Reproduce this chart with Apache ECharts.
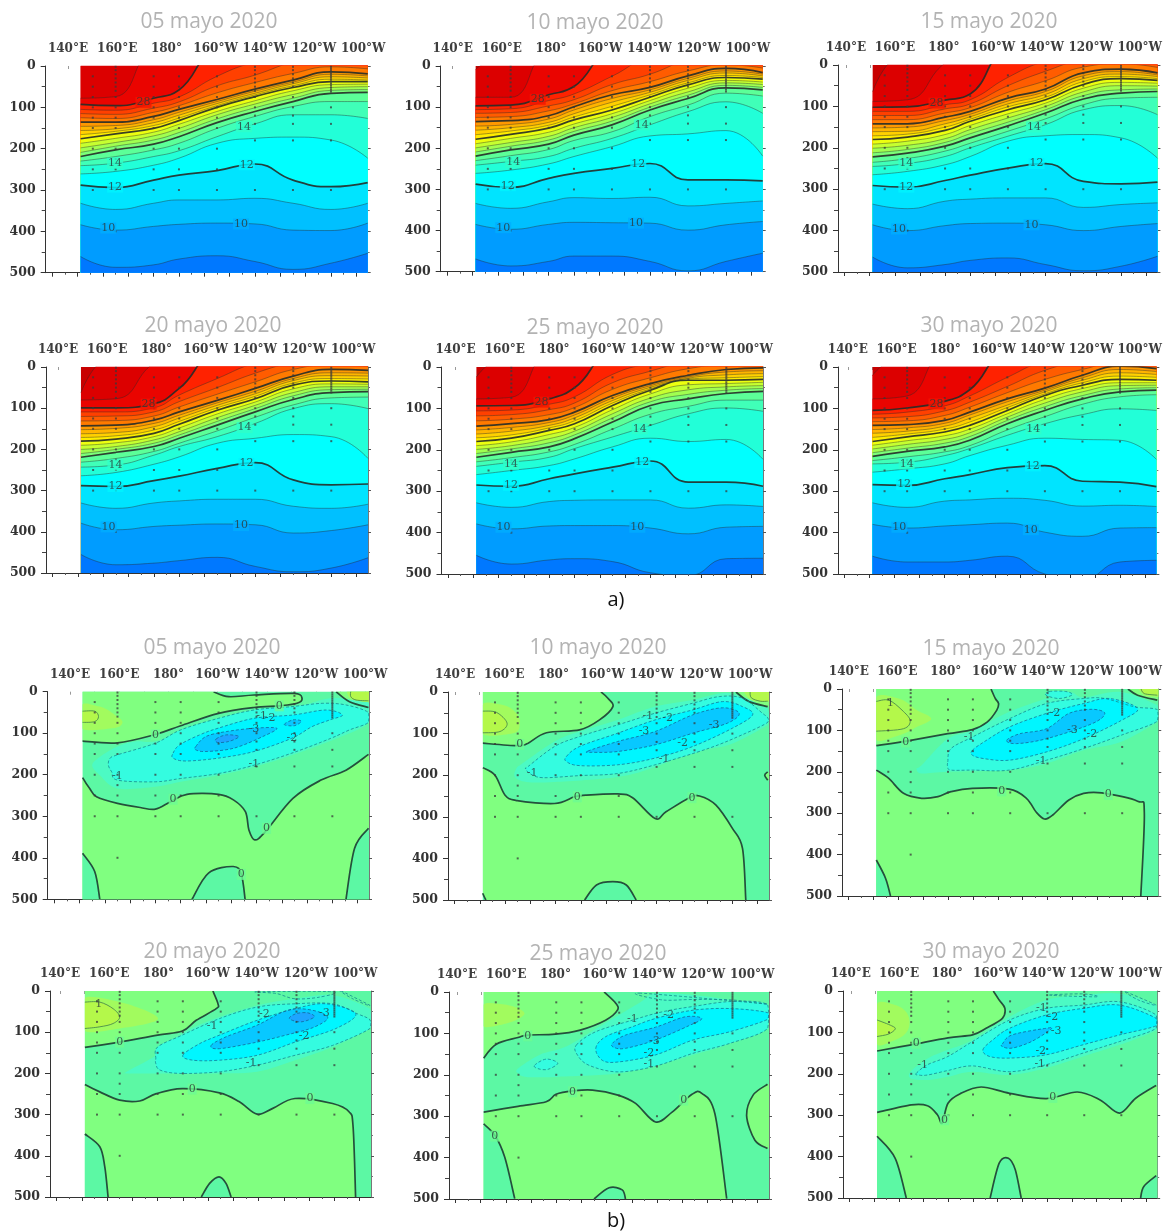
<!DOCTYPE html>
<html><head><meta charset="utf-8">
<style>html,body{margin:0;padding:0;background:#fff}#c{width:1165px;height:1231px}</style>
<script src="https://cdn.jsdelivr.net/npm/echarts@6/dist/echarts.min.js"></script>
</head><body><div id="c"></div>
<script>
const titles = ['05 mayo 2020','10 mayo 2020','15 mayo 2020','20 mayo 2020','25 mayo 2020','30 mayo 2020'];
const tickLabels = ['140°E','160°E','180°','160°W','140°W','120°W','100°W'];
const labelLons = [140,160,180,200,220,240,260];
const tickLons = [140,150,160,170,180,190,200,210,220,230,240,250,260];
const minorLons = [145,155,165,175,185,195,205,215,225,235,245,255];
const lonNodes = [151.2,165,180,190,205,220,235,250,264.5];
const tempLevels = [30,29,28,27,26,25,24,23,22,21,20,19,18,17,16,15,14,13,12,11,10,9];
const thickLevels = [28,24,20,16,12];
const tempColors = ['#dc0000','#ea0400','#ff2200','#ff4000','#ff5c00','#ff7a00','#ff9800','#ffb400','#ffd000','#ffec00','#ecff10','#c6ff30','#a0ff50','#7cff78','#5cff98','#40ffb8','#22ffd8','#00ffff','#00e4ff','#00c0ff','#009cff','#0078ff'];
const tempTop = '#c80000';
const o = -30;
const T1 = [[o,o,o,o,o,o,o,o,o],[78,74,o,o,o,o,o,o,o],[93,96,78,58,o,o,o,o,o],[105,107,90,75,25,-10,o,o,o],[115,117,102,87,48,22,-10,o,o],[125,127,112,96,65,40,18,2,7],[136,136,122,105,81,56,34,14,19],[146,144,130,112,86,61,39,20,24],[156,152,137,119,91,66,43,26,29],[166,158,144,126,96,70,48,32,34],[176,164,151,132,100,74,52,38,38],[187,175,160,141,110,84,60,45,44],[198,185,169,151,118,92,69,52,50],[209,194,179,161,128,101,78,59,57],[219,203,189,171,137,110,86,66,64],[230,219,203,187,151,122,98,86,86],[241,235,219,205,171,140,118,118,127],[261,255,240,223,187,175,172,179,223],[288,294,276,264,253,237,276,292,282],[332,347,332,324,324,320,332,347,332],[384,397,388,383,380,382,397,398,380],[461,487,481,467,459,473,492,477,453]];
const T2 = [[8,o,o,o,o,o,o,o,o],[76,76,o,o,o,o,o,o,o],[97,95,70,50,o,o,o,o,o],[106,104,84,68,25,-20,o,o,o],[115,113,97,82,45,20,-15,o,o],[125,123,109,92,60,38,12,-3,5],[135,133,121,99,70,52,24,6,16],[146,142,129,107,79,58,30,12,20],[156,150,137,116,88,64,35,17,24],[167,158,144,124,98,70,41,23,28],[178,166,151,131,107,76,46,28,32],[189,176,161,141,116,84,54,35,39],[199,186,171,150,125,92,63,41,45],[209,195,180,159,134,100,71,47,52],[219,204,190,168,143,107,79,53,58],[230,218,203,181,160,123,95,66,73],[241,232,220,200,176,143,111,87,115],[261,253,238,220,196,170,165,157,219],[287,295,273,261,249,237,277,277,279],[334,346,330,320,322,319,340,334,328],[385,397,385,380,381,382,399,386,378],[469,486,475,462,462,475,498,475,455]];
const T3 = [[64,o,o,o,o,o,o,o,o],[88,84,-5,o,o,o,o,o,o],[102,101,85,70,o,o,o,o,o],[112,112,96,84,30,-10,o,o,o],[122,122,106,94,50,15,-15,o,o],[132,132,116,103,66,38,5,-3,6],[142,142,126,112,80,58,19,10,19],[152,150,134,119,87,64,26,16,24],[161,160,142,125,94,71,33,22,28],[171,167,150,131,101,78,40,28,33],[180,174,158,136,108,84,47,33,37],[191,184,168,146,118,92,56,42,44],[201,194,178,156,128,100,65,50,51],[212,204,187,166,138,108,74,60,58],[222,213,196,176,147,116,82,68,64],[235,226,208,189,160,130,96,80,78],[245,238,221,200,172,144,108,98,120],[265,257,241,221,184,171,168,176,225],[291,295,279,266,249,238,281,287,283],[336,347,329,324,321,321,344,337,333],[386,400,388,383,382,386,400,390,383],[464,490,482,472,466,482,497,486,462]];
const T4 = [[62,o,o,o,o,o,o,o,o],[80,77,-10,o,o,o,o,o,o],[99,99,89,52,o,o,o,o,o],[109,109,99,68,28,-10,o,o,o],[120,119,109,84,50,15,-12,o,o],[131,130,119,97,66,36,6,-5,-2],[143,141,129,109,81,52,22,6,8],[152,149,137,117,87,59,28,14,15],[162,159,145,124,93,65,33,21,22],[171,167,153,132,99,71,39,28,29],[180,175,161,139,105,77,44,34,36],[190,184,169,148,114,85,53,41,42],[200,193,177,157,123,93,62,48,48],[210,200,185,165,132,101,70,55,54],[219,207,193,173,141,109,79,62,60],[231,222,205,185,155,122,92,75,73],[243,238,214,193,169,137,101,89,101],[264,256,236,218,185,173,164,169,222],[288,290,276,265,246,232,274,286,284],[330,343,330,325,321,321,338,343,333],[379,395,387,384,381,383,403,397,383],[455,480,476,470,462,484,497,488,463]];
const T5 = [[24,o,o,o,o,o,o,o,o],[77,73,o,o,o,o,o,o,o],[94,93,77,50,o,o,o,o,o],[106,104,90,72,18,-10,o,o,o],[118,115,103,87,38,10,-15,o,o],[130,126,115,98,54,26,4,-5,-6],[143,137,127,109,69,40,20,6,2],[152,146,134,116,75,45,24,12,9],[162,155,141,123,81,49,27,19,16],[171,164,147,130,87,53,29,26,23],[180,172,153,137,93,56,32,32,30],[190,181,163,146,103,65,43,40,37],[199,190,173,155,113,75,55,48,45],[209,198,183,164,123,84,66,56,52],[218,206,193,173,133,93,77,64,59],[229,219,205,187,150,114,95,80,80],[240,230,218,197,169,141,113,99,107],[260,250,238,222,193,172,180,175,223],[285,288,270,258,242,227,278,278,288],[328,339,325,322,321,321,341,333,337],[379,391,384,383,383,389,403,387,385],[455,476,466,463,470,497,504,463,462]];
const T6 = [[20,o,o,o,o,o,o,o,o],[77,70,o,o,o,o,o,o,o],[105,99,83,55,o,o,o,o,o],[114,109,94,70,25,-15,o,o,o],[123,120,106,85,47,8,-15,o,o],[132,130,117,97,62,30,6,-12,-8],[141,139,129,109,77,51,20,-2,4],[151,147,136,116,84,56,26,6,11],[160,155,143,124,92,60,32,14,18],[170,162,150,133,98,65,38,22,25],[180,169,157,141,105,69,44,30,32],[189,178,166,150,113,78,52,38,38],[198,187,175,159,121,87,60,45,44],[207,196,184,168,129,96,69,53,50],[216,204,193,177,137,105,77,60,56],[226,217,205,190,152,120,90,72,67],[234,230,214,197,165,137,115,101,105],[254,246,234,214,189,172,175,177,223],[284,286,270,260,243,238,276,278,289],[328,339,324,321,317,322,336,334,337],[380,389,384,381,377,399,409,389,388],[457,471,471,467,457,500,512,471,467]];
const TL1 = [[176,88,'28'],[215.7,147,'14'],[164.8,235,'14'],[216.8,239,'12'],[164.8,293,'12'],[162.1,392,'10'],[214.5,382,'10']];
const TL2 = [[175.7,81,'28'],[216.8,143,'14'],[166,234,'14'],[215.4,239,'12'],[163.9,291,'12'],[162.1,393,'10'],[214.5,382,'10']];
const TL3 = [[176.6,92,'28'],[215.4,150,'14'],[164.6,238,'14'],[216.4,238,'12'],[164.6,295,'12'],[161.7,396,'10'],[214.4,386,'10']];
const TL4 = [[177.9,90,'28'],[215.8,147,'14'],[164.8,238,'14'],[216.5,234,'12'],[164.8,290,'12'],[162.1,388,'10'],[214.4,385,'10']];
const TL5 = [[176.9,85,'28'],[215.8,149,'14'],[164.9,235,'14'],[216.8,231,'12'],[164.9,286,'12'],[161.9,387,'10'],[214.8,387,'10']];
const TL6 = [[176.7,89,'28'],[215.4,149,'14'],[164.8,234,'14'],[215.2,239,'12'],[163.8,284,'12'],[161.9,387,'10'],[214.4,393,'10']];
const tempLabelBg = {'28':'#f41400','14':'#30ffc8','12':'#00f4ff','10':'#00aeff'};

// Anomaly contours: [kind, curve (lon,depth), straight closure]
const A1 = [
 ['pos',[[151.1,119],[165,123],[180,103],[190,82],[205,52],[219,38],[229,34],[236,28],[238,16],[235,4],[219,8],[209,12],[203,0]],[[203,-20],[140,-20]]],
 ['pos',[[251.5,0],[256.8,24],[264.3,38]],[[270,38],[270,-20],[251.5,-20]]],
 ['pos',[[151.1,207],[154,233],[156.7,253],[165,269],[174,279],[180,283],[186,265],[192.5,247],[205,247],[211,261],[215.6,289],[217,333],[219.3,357],[223.5,337],[234.4,257],[245.5,213],[255.4,189],[264.3,151]],[[270,151],[270,520],[140,520],[140,207]]],
 ['neg',[[151.1,389],[156,433],[158,500]],[[158,520],[140,520],[140,389]]],
 ['neg',[[194.5,500],[201,437],[210.8,421],[214,440],[215.5,500]],[[215.5,520],[194.5,520]]],
 ['neg',[[264.3,329],[258.8,377],[255.4,500]],[[255.4,520],[270,520],[270,329]]],
 ['p05',[[148,32],[158,36],[164,56],[167,74],[163,88],[148,88]]],
 ['p05',[[255.4,-5],[257,16],[261,28],[266,28]],[[270,28],[270,-20]]],
 ['p1',[[151,47],[156,47],[157.5,60],[156,72],[151,74]],[[145,74],[145,47]]],
 ['p1',[[257.3,-2],[257.3,12],[259.4,20],[264.3,22]],[[270,22],[270,-20]]],
 ['n05',[[158,157],[165,132],[172,120],[180,120],[190,96],[205,64],[219,44],[234,40],[249,16],[262,24],[268,30],[268,70],[250,117],[234,153],[219,181],[205,201],[190,217],[180,229],[165,233],[158,201],[155,177]]],
 ['n1',[[162,161],[165,152],[180,124],[190,92],[205,64],[219,44],[234,36],[246,28],[255.5,32],[264.3,50],[264.3,74],[256.8,92],[249.5,112],[234,148],[219,177],[205,197],[190,209],[180,217],[165,213],[162.7,193],[161.4,177]]],
 ['n2',[[187,148],[189.6,128],[197.5,104],[204.8,88],[219,64],[234.4,56],[247.5,44],[254,56],[249,68],[242,84],[234,112],[219,144],[205,160],[192,167],[187,160]]],
 ['n3',[[196,132],[200,108],[208,96],[219,88],[228,88],[222.5,108],[211,136],[200,144],[196,140]]],
 ['n3',[[231,79],[234.4,68],[237.7,71],[235,82]]],
 ['n35',[[204,114],[208,104],[213,108],[209,120],[204.5,122]]]];
const A2 = [
 ['pos',[[151,123],[164.8,129],[169.1,123],[176.4,98],[189.5,91],[197.4,67],[202.7,35],[200.7,15],[198,0]],[[198,-20],[140,-20]]],
 ['pos',[[251.4,0],[256.6,23],[264,35]],[[270,35],[270,-20],[251.4,-20]]],
 ['pos',[[151,182],[156,200],[160,248],[164.8,261],[179.6,268],[187.5,252],[192,248],[204.6,245],[210.5,254],[219.4,304],[223.7,288],[233,254],[237,250],[243.5,272],[250,328],[254,376],[255.3,500]],[[255.3,520],[140,520],[140,182]]],
 ['pos',[[264,192],[262.8,200],[264,212]],[[270,212],[270,192]]],
 ['neg',[[191.5,500],[196.2,464],[202.7,456],[208,464],[211.9,500]],[[211.9,520],[191.5,520]]],
 ['neg',[[151,484],[152.4,500]],[[152.4,520],[145,520]]],
 ['p05',[[148,31],[159.2,31],[164.5,51],[165.8,75],[163.2,99],[148,99]]],
 ['p05',[[254,-5],[257.5,19],[264,23]],[[270,23],[270,-20]]],
 ['p1',[[151,46],[156.6,49],[160.8,75],[158,95],[151,98]],[[145,98],[145,46]]],
 ['p1',[[257,-2],[257.5,14],[261,22],[264,22]],[[270,22],[270,-20]]],
 ['n05',[[167.1,171],[179.6,119],[189.5,95],[204.6,67],[219.4,35],[234.3,19],[248.7,3],[264,39],[268,60],[264,79],[248.7,127],[234.3,143],[219.4,180],[204.6,204],[179.6,216],[168.5,216],[163.9,204],[164.5,184]]],
 ['n1',[[169.1,179],[179.6,131],[189.5,107],[204.6,79],[219.4,51],[234.3,27],[244.8,11],[254,15],[261.9,51],[264,62],[264,73],[255.3,99],[240.8,135],[219.4,175],[204.6,196],[189.5,201],[175,206],[169.8,196],[168.2,184]]],
 ['n2',[[184.3,155],[189.5,131],[204.6,99],[219.4,67],[234.3,43],[246.1,23],[254,35],[258,55],[250,87],[234.3,131],[219.4,159],[204.6,175],[189.5,177],[184.3,167]]],
 ['n3',[[192.8,142],[204.6,119],[219.4,95],[234.3,55],[246.1,38],[252.7,51],[248,75],[234.3,99],[219.4,127],[204.6,143],[194.8,145]]]];
const A3 = [
 ['pos',[[151.2,137],[165,124],[179.9,108],[189.8,98],[195.7,80],[199.6,51],[200.3,35],[199,23],[197.3,0]],[[197.3,-20],[140,-20]]],
 ['pos',[[252.3,0],[256.2,15],[264.1,27]],[[270,27],[270,-20],[252.3,-20]]],
 ['pos',[[151.2,196],[156.2,216],[162.1,252],[169.4,264],[176,260],[181.2,248],[189.8,240],[204.6,242],[211.5,264],[215.4,297],[218.7,314],[222,305],[228.6,268],[234.5,252],[241.8,251],[256.2,271],[258.9,297],[257.5,500]],[[257.5,520],[140,520],[140,196]]],
 ['neg',[[151.2,413],[154.9,457],[156.9,500]],[[156.9,520],[145,520],[145,413]]],
 ['p05',[[148,23],[160.2,23],[167.4,51],[173.3,72],[167.4,92],[160.2,112],[148,120]]],
 ['p05',[[256.2,-5],[258.9,15],[264.1,19]],[[270,19],[270,-20]]],
 ['p1',[[151.2,30],[156.2,27],[161.5,51],[164.8,76],[162.1,96],[151.2,102]],[[145,102],[145,30]]],
 ['p1',[[257.5,-2],[258.9,11],[264.1,15]],[[270,15],[270,-20]]],
 ['n05',[[169.4,184],[179.9,120],[189.8,100],[204.6,55],[219.6,23],[229,8],[234.5,20],[249.4,7],[264.1,39],[268,60],[264.1,80],[249.4,128],[234.5,148],[219.6,180],[204.6,196],[179.9,200],[169.4,204],[167.4,192]]],
 ['n1',[[179.9,176],[181.2,144],[189.8,116],[204.6,72],[219.6,35],[234.5,23],[243,23],[254.9,43],[264.1,50],[264.1,78],[249.4,112],[234.5,144],[219.6,172],[204.6,196],[189.8,196],[181.2,196],[179.9,188]]],
 ['n1',[[220.7,6],[227.3,6],[229.9,14],[224.7,23],[219.4,15]]],
 ['n2',[[189.8,148],[194.4,128],[204.6,92],[219.6,59],[234.5,35],[245,23],[256.2,47],[249.6,76],[234.5,120],[219.6,152],[204.6,172],[194.4,168],[189.8,160]]],
 ['n3',[[203.6,124],[208.9,108],[219.6,96],[228.6,59],[237.8,49],[243,59],[237.8,84],[219.6,120],[207.5,132]]]];
const A4 = [
 ['pos',[[151.2,137],[165,124],[180,107],[189.8,97],[195.3,71],[203.2,43],[203.9,31],[201.9,0]],[[201.9,-20],[140,-20]]],
 ['pos',[[151.2,227],[157.1,245],[165,265],[172.9,267],[179.5,249],[189.8,237],[204.5,247],[212.4,269],[219.4,299],[225.6,285],[234.4,261],[249.3,273],[255.8,293],[257.4,330],[258.4,500]],[[258.4,520],[140,520],[140,227]]],
 ['neg',[[151.2,347],[157.1,378],[159.1,427],[160.4,500]],[[160.4,520],[145,520],[145,347]]],
 ['neg',[[197.3,500],[200.6,467],[204.3,451],[207.1,467],[209.1,500]],[[209.1,520],[197.3,520]]],
 ['p05',[[148,19],[165,27],[180.2,67],[165,91],[148,95]]],
 ['p1',[[151.2,27],[157.1,27],[162.4,43],[165,63],[162.4,79],[157.1,87],[151.2,91]],[[145,91],[145,27]]],
 ['n05',[[167.7,196],[179.5,156],[189.8,103],[204.5,63],[219.4,35],[234.4,19],[249.3,10],[264.1,43],[268,65],[264.1,91],[249.3,136],[234.4,168],[219.4,196],[204.5,200],[180,200],[167.7,200]]],
 ['n1',[[179.3,164],[180,136],[189.8,107],[204.5,67],[219.4,39],[234.4,31],[249.3,31],[259,55],[264.1,70],[264.1,91],[249.3,132],[234.4,156],[219.4,180],[204.5,196],[188.7,200],[181,192],[179.3,176]]],
 ['n2',[[190,156],[196.6,128],[204.5,107],[219.4,71],[234.4,43],[246.6,31],[258.5,55],[250.6,91],[234.4,124],[219.4,156],[204.5,168],[194,168]]],
 ['n3',[[201.2,132],[207.2,111],[219.4,83],[229.5,51],[236.1,43],[244,51],[247.3,67],[241.4,89],[230.8,107],[219.4,124],[204.5,140]]],
 ['n35',[[232.2,67],[234.8,55],[239.4,53],[242,63],[236.8,75]]],
 ['dash',[[219.4,2],[227,6],[234.4,19],[244,15],[249.3,2]]],
 ['dash',[[252,-2],[257.3,19],[264.1,35]]]];
const A5 = [
 ['pos',[[151,160],[156.2,126],[164.8,110],[168.7,104],[179.6,102],[189.5,92],[199.6,68],[204.3,44],[203.6,27],[199,0]],[[199,-20],[140,-20]]],
 ['pos',[[151,290],[164.8,276],[176,265],[179.9,247],[186.5,239],[194.4,237],[204.5,249],[211.5,269],[219.4,314],[226,290],[233.9,247],[237.8,245],[243,294],[247.7,499]],[[247.7,520],[140,520],[140,290]]],
 ['pos',[[263.9,223],[258.2,249],[255.6,298],[258.9,358],[263.9,378]],[[270,378],[270,223]]],
 ['neg',[[151,318],[155.6,346],[159.5,398],[163.5,499]],[[163.5,520],[145,520],[145,318]]],
 ['neg',[[195,500],[201,473],[206.2,478],[207.5,500]],[[207.5,520],[195,520]]],
 ['p05',[[148,31],[160.2,31],[167.4,52],[160.2,76],[148,82]]],
 ['n05',[[164.8,185],[173.3,152],[183.9,132],[197,84],[212.8,27],[219.4,3],[234.3,7],[249,19],[264,40],[268,55],[264,72],[249,124],[234.3,152],[219.4,177],[204.5,197],[179.6,205],[168,205],[165,197]]],
 ['n1',[[188,128],[195.7,96],[210.2,68],[222,48],[234.3,35],[249.6,23],[264,31],[264,88],[249,124],[234.3,148],[219.4,179],[204.5,193],[193,177],[188.4,152]]],
 ['n1',[[171.4,177],[176,162],[180.6,172],[176.6,187],[172.7,185]]],
 ['n2',[[195.7,136],[199.6,108],[210.2,84],[219.4,64],[234.3,44],[249.6,40],[264,50],[264,66],[249,96],[234.3,116],[219.4,152],[204.5,169],[198.3,165]]],
 ['n3',[[202.3,124],[207.5,104],[219.4,85],[231.2,60],[237.8,64],[232.5,82],[219.4,116],[207.5,136],[203,134]]],
 ['dash',[[213.5,3],[222,19],[234.3,18],[249.6,19],[264,29]]]];
const A6 = [
 ['pos',[[151.2,145],[165,130],[179.9,113],[189.8,106],[195.3,90],[201.9,66],[202.9,42],[200.6,22],[198.2,0]],[[198.2,-20],[140,-20]]],
 ['pos',[[151.2,293],[165,275],[171.6,277],[175.6,299],[177.5,319],[179.9,271],[184.8,248],[193.3,232],[204.8,247],[219.6,260],[232.2,244],[241.4,263],[249.3,295],[255.8,259],[264.1,228]],[[270,228],[270,520],[140,520],[140,293]]],
 ['neg',[[151.2,351],[158.5,404],[163,500]],[[163,520],[145,520],[145,351]]],
 ['neg',[[196.9,500],[200.6,416],[204.3,404],[207.1,432],[209.5,500]],[[209.5,520],[196.9,520]]],
 ['neg',[[264.1,446],[259.1,472],[257.8,500]],[[257.8,520],[270,520],[270,446]]],
 ['p05',[[148,34],[158.5,34],[163.7,58],[163.7,94],[158.5,118],[148,126]]],
 ['p1',[[151.2,70],[157.1,84],[158.5,92],[155.8,104],[151.2,110]],[[145,110],[145,70]]],
 ['n05',[[164.8,195],[172,162],[179.9,142],[189.8,118],[204.8,62],[219.6,22],[234.5,10],[249.3,6],[264.1,34],[268,60],[264.1,94],[249.3,130],[234.5,158],[219.6,186],[204.8,203],[189.8,195],[179.9,207],[172,215],[165,211]]],
 ['n1',[[167,199],[171.6,178],[179.9,158],[189.8,122],[204.8,70],[219.6,42],[234.5,34],[249.3,26],[264.1,58],[264.1,90],[249.3,122],[234.5,150],[219.6,178],[204.8,195],[189.8,181],[179.9,192],[171.6,203],[168,203]]],
 ['n2',[[194,142],[198,118],[204.8,90],[219.6,58],[234.5,42],[249.3,34],[264.1,66],[264.1,84],[249.3,106],[234.5,130],[219.6,154],[204.8,162],[196.6,158]]],
 ['n3',[[201.9,128],[205.8,106],[219.6,90],[221.6,92],[213.7,122],[205.8,138],[201.9,134]]],
 ['dash',[[221,10],[234.5,7],[240,14]]],
 ['dash',[[251.7,2],[257,22],[264.1,34]]]];
const AL1 = [[180,104,'0'],[229,34,'0'],[187,259,'0'],[224,329,'0'],[214,440,'0'],[222,60,'-1'],[225.4,64,'-2'],[219,91,'-3'],[234,111,'-2'],[219,174,'-1'],[165,203,'-1']];
const AL2 = [[165.8,126,'0'],[188.6,252,'0'],[234,254,'0'],[216.5,59,'-1'],[224.4,62,'-2'],[215,95,'-3'],[242.8,79,'-3'],[230.3,122,'-2'],[223,162,'-1'],[170.7,196,'-1']];
const AL3 = [[163,128,'0'],[201.6,246,'0'],[244.4,255,'0'],[156.9,35,'1'],[188.5,116,'-1'],[223,59,'-2'],[230,100,'-3'],[237.8,108,'-2'],[217.4,174,'-1']];
const AL4 = [[165,124,'0'],[193.7,238,'0'],[240.3,261,'0'],[156.7,31,'1'],[201.6,86,'-1'],[222.3,55,'-2'],[246,53,'-3'],[238,110,'-2'],[217,176,'-1']];
const AL5 = [[168.7,106,'0'],[186.5,241,'0'],[230.6,261,'0'],[155.6,348,'0'],[210.2,66,'-1'],[224.6,56,'-2'],[219,119,'-3'],[216.8,147,'-2'],[216.8,175,'-1']];
const AL6 = [[167,126,'0'],[222.3,257,'0'],[178.5,311,'0'],[217.7,42,'-1'],[222.3,64,'-2'],[223.6,98,'-3'],[217.4,146,'-2'],[217,176,'-1'],[169.6,180,'-1']];

// TAO mooring positions, depths per longitude
const moorLons = [156,165,180,190,205,220,235,250,265];
const moorDepths = [
 [25,50,75,100,125,150,200,250,300],
 [2,10,20,30,40,50,60,75,100,125,150,200,225,250,300,400],
 [25,50,75,100,125,150,200,250,300],
 [25,50,75,100,125,150,200,250,300],
 [25,50,75,100,125,150,200,250,300],
 [2,10,20,30,40,50,60,75,100,120,140,180,300],
 [2,10,20,30,40,50,75,100,120,140,180,300],
 [2,7,12,17,22,27,32,37,42,47,52,57,62,100,140,180,300],
 [20,40,60,80,100,120,140]];

// layout: left, right, top, bottom, centre of the 140°E label, title centre, title y
const panelBoxes = [
 [45.7,367.7,66,272.7,68,209,22],[440.7,762.7,66,271.7,452.7,595,23],[838,1159,65,272,846,989,22],
 [46,368,367,573,58,213,326],[441.5,763,367,574,455.6,595,328],[838,1160,367,574,848,989,326],
 [47.7,369,691.7,899.3,70,212,648],[448,769,692,900,455,598,648],[842,1163,689,896,849,991,649],
 [50,371,991,1197,60,212,952],[449,769,992,1199,457,598,954],[843,1164,991,1198,851,991,952]];

const tempTables = [T1,T2,T3,T4,T5,T6], tempLabels = [TL1,TL2,TL3,TL4,TL5,TL6];
const anomTables = [A1,A2,A3,A4,A5,A6], anomLabels = [AL1,AL2,AL3,AL4,AL5,AL6];

const lonMin = 137.4, lonMax = 264.5, dataStart = 151.2;
const labelScale = 2.46;
const SERIF = '"DejaVu Serif"';
const kinds = {
 base:{fill:'#5cf8a4'}, pos:{fill:'#80ff80',stroke:'#24503c',w:1.7}, neg:{fill:'#5cf8a4',stroke:'#24503c',w:1.7},
 p05:{fill:'#a2fb5e'}, p1:{fill:'#b4f84a',stroke:'#3f7d4a',w:0.8},
 n05:{fill:'#4cfac4'}, n1:{fill:'#34fce0',stroke:'#158a90',w:0.8,dash:[3,2]},
 n2:{fill:'#00f6ff',stroke:'#107a9a',w:0.8,dash:[3,2]}, n3:{fill:'#08c8ff',stroke:'#10689a',w:0.8,dash:[3,2]},
 n35:{fill:'#1ea4ff',stroke:'#10689a',w:0.8,dash:[3,2]}, dash:{stroke:'#158a90',w:0.8,dash:[3,2]}
};
const baseShape = ['base',[[dataStart,-10],[lonMax,-10]],[[lonMax,510],[dataStart,510]]];

function f(n){return n.toFixed(1);}
function buildPath(api,pts,closure,rect){
 const raw = pts.map(p=>api.coord(p));
 const n = raw.length, closed = !closure;
 const at = i=> closed ? raw[(i+n)%n] : raw[Math.max(0,Math.min(n-1,i))];
 const lim = x=>Math.max(rect.x0,Math.min(rect.x1,x));
 let d = 'M'+f(lim(raw[0][0]))+' '+f(raw[0][1]);
 const segs = closed ? n : n-1;
 for(let i=0;i<segs;i++){
  const p0=at(i-1),p1=at(i),p2=at(i+1),p3=at(i+2);
  d+=' C'+f(lim(p1[0]+(p2[0]-p0[0])/6))+' '+f(p1[1]+(p2[1]-p0[1])/6)+' '+f(lim(p2[0]-(p3[0]-p1[0])/6))+' '+f(p2[1]-(p3[1]-p1[1])/6)+' '+f(lim(p2[0]))+' '+f(p2[1]);
 }
 const stroke = d;
 let fill = d;
 if(closure){closure.forEach(p=>{const c=api.coord(p);fill+=' L'+f(lim(c[0]))+' '+f(c[1]);});fill+=' Z';}
 else {fill+=' Z';}
 return {fill,stroke:closed?fill:stroke};
}
function shapeSeries(idx,shapes,mode){
 return {type:'custom',xAxisIndex:idx*2,yAxisIndex:idx*2,coordinateSystem:'cartesian2d',clip:true,silent:true,animation:false,z:mode==='fill'?3:5,
  data:shapes.map(s=>s[1][0]),
  renderItem:(params,api)=>{
   const s=shapes[params.dataIndex],k=kinds[s[0]];
   const a=api.coord([dataStart,0]),b=api.coord([lonMax,0]);
   const pth=buildPath(api,s[1],s[2],{x0:a[0],x1:b[0]});
   if(mode==='fill'){ if(!k.fill) return; return {type:'path',shape:{pathData:pth.fill},style:{fill:k.fill,stroke:null}}; }
   if(!k.stroke) return;
   return {type:'path',shape:{pathData:pth.stroke},style:{fill:'none',stroke:k.stroke,lineWidth:k.w,lineDash:k.dash||null}};
  }};
}
function labelSeries(idx,list,bgFn){
 return {type:'scatter',xAxisIndex:idx*2,yAxisIndex:idx*2,silent:true,animation:false,z:7,symbolSize:1,itemStyle:{color:'rgba(0,0,0,0)'},
  data:list.map(l=>({value:[l[0],l[1]],name:l[2],label:{backgroundColor:bgFn(l)}})),
  label:{show:true,position:'inside',formatter:p=>p.name,color:'#2c3a3a',fontFamily:SERIF,fontSize:11,padding:[0,1]}};
}
function moorSeries(idx){
 const data=[];moorLons.forEach((x,i)=>moorDepths[i].forEach(d=>data.push([x,d])));
 return {type:'scatter',xAxisIndex:idx*2,yAxisIndex:idx*2,silent:true,animation:false,z:6,symbol:'rect',symbolSize:2,itemStyle:{color:'#3a3a3a',opacity:0.75},data};
}

const grids=[],xAxes=[],yAxes=[],series=[];
panelBoxes.forEach((b,i)=>{
 const [L,R,T,B,lab0]=b;
 grids.push({left:L,top:T,width:R-L,height:B-T,containLabel:false});
 const topMin=140-(lab0-L)/labelScale, topMax=topMin+(R-L)/labelScale;
 xAxes.push({gridIndex:i,type:'value',position:'bottom',min:lonMin,max:lonMax,splitLine:{show:false},axisLine:{onZero:false,lineStyle:{color:'#333',width:1}},
   axisTick:{show:true,length:4,customValues:tickLons,lineStyle:{color:'#333'}},axisLabel:{show:false}});
 xAxes.push({gridIndex:i,type:'value',position:'top',min:topMin,max:topMax,splitLine:{show:false},axisLine:{show:false,onZero:false},
   axisTick:{show:true,length:3,inside:true,customValues:tickLons,lineStyle:{color:'#999'}},
   axisLabel:{show:true,customValues:labelLons,margin:11,fontFamily:SERIF,fontWeight:'bold',fontSize:12,color:'#3e3e3e',
     formatter:v=>tickLabels[labelLons.indexOf(v)],hideOverlap:false,showMinLabel:true,showMaxLabel:true}});
 yAxes.push({gridIndex:i,type:'value',inverse:true,position:'left',min:0,max:500,interval:100,splitLine:{show:false},
   axisLine:{onZero:false,lineStyle:{color:'#333'}},axisTick:{length:5,lineStyle:{color:'#333'}},minorTick:{show:true,splitNumber:2,length:4,lineStyle:{color:'#444'}},
   axisLabel:{margin:10,fontFamily:SERIF,fontWeight:'bold',fontSize:12.5,color:'#333'}});
 yAxes.push({gridIndex:i,type:'value',inverse:true,position:'right',min:0,max:500,interval:100,splitLine:{show:false},
   axisLine:{onZero:false,lineStyle:{color:'#777'}},axisTick:{length:3,lineStyle:{color:'#555'}},minorTick:{show:true,splitNumber:2,length:2,lineStyle:{color:'#777'}},axisLabel:{show:false}});
 if(i<6){
  const tab=tempTables[i];
  series.push({type:'line',xAxisIndex:i*2,yAxisIndex:i*2,showSymbol:false,silent:true,animation:false,z:2,clip:true,lineStyle:{width:0},
   areaStyle:{color:tempTop,opacity:1,origin:'end'},data:[[dataStart,-40],[lonMax,-40]]});
  tempLevels.forEach((lv,r)=>{
   const thick=thickLevels.includes(lv);
   series.push({type:'line',xAxisIndex:i*2,yAxisIndex:i*2,showSymbol:false,silent:true,animation:false,z:2,clip:true,smooth:0.5,
    lineStyle:{color:'#262c28',width:thick?1.7:0.7,opacity:thick?0.9:0.6},
    areaStyle:{color:tempColors[r],opacity:1,origin:'end'},
    data:lonNodes.map((x,j)=>[x,tab[r][j]])});
  });
  series.push(moorSeries(i));
  series.push(labelSeries(i,tempLabels[i],l=>tempLabelBg[l[2]]));
 } else {
  const sh=[baseShape].concat(anomTables[i-6]);
  series.push(shapeSeries(i,sh,'fill'));
  series.push(shapeSeries(i,sh,'line'));
  series.push(moorSeries(i));
  series.push(labelSeries(i,anomLabels[i-6],l=>l[2]==='0'?'#6cfb92':'transparent'));
 }
});
// short 5-degree ticks along the bottom
panelBoxes.forEach((b,i)=>{
 xAxes.push({gridIndex:i,type:'value',position:'bottom',min:lonMin,max:lonMax,splitLine:{show:false},axisLine:{show:false,onZero:false},
   axisTick:{show:true,length:2,customValues:minorLons,lineStyle:{color:'#555'}},axisLabel:{show:false}});
});
const textStyle = {color:'#b3b3b3',fontFamily:'"Open Sans"',fontWeight:'normal',fontSize:21,lineHeight:26};
const titleList = panelBoxes.map((b,i)=>({text:titles[i%6],left:b[5],top:b[6]-13,textAlign:'center',textStyle,padding:0}));
const captionStyle = {color:'#111',fontFamily:'"Open Sans"',fontWeight:'normal',fontSize:20,lineHeight:26};
titleList.push({text:'a)',left:616,top:587,textAlign:'center',textStyle:captionStyle,padding:0});
titleList.push({text:'b)',left:616,top:1208,textAlign:'center',textStyle:captionStyle,padding:0});

const chart=echarts.init(document.getElementById('c'),null,{renderer:'canvas',width:1165,height:1231});
chart.setOption({animation:false,backgroundColor:'#fff',title:titleList,grid:grids,xAxis:xAxes,yAxis:yAxes,series});
</script></body></html>
